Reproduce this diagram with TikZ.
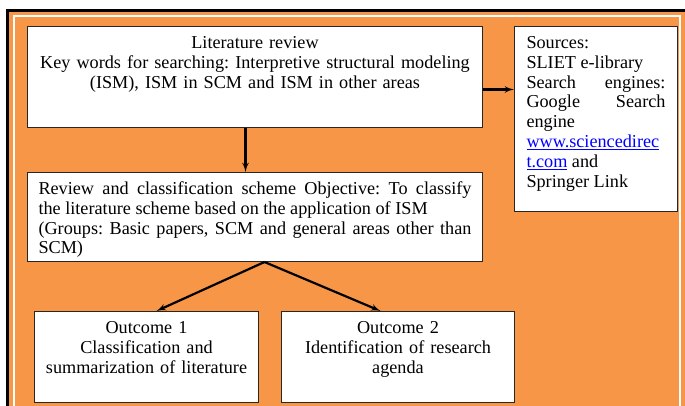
\documentclass[tikz,border=0pt]{standalone}
\usepackage{fontspec}
\setmainfont{Liberation Serif}
\usepackage{xcolor}
\usetikzlibrary{arrows,positioning}
\definecolor{frameorange}{HTML}{F79646}
\definecolor{linkblue}{HTML}{0000FF}
\frenchspacing

\begin{document}
\begin{tikzpicture}[x=1pt,y=1pt,->,>=latex',line width=2.2pt,auto,node distance=44pt,
				box/.style={draw=black!85,line width=1pt,fill=white,inner xsep=11pt,inner ysep=9pt,
				text height=13pt,font=\fontsize{18.2}{19.8}\selectfont}]
			%\tikzstyle{every node}=[draw,fill=white]
			\useasboundingbox (0,0) rectangle (685,405);
			\clip (0,0) rectangle (685,405);
			\fill[white] (0,0) rectangle (685,405);
			\fill[frameorange] (9,-10) rectangle (695,393);
			\draw[-,line width=3pt] (7.5,-10) -- (7.5,394.5) -- (695,394.5);
			\draw[-,white,line width=2pt] (14,-10) -- (14,389) -- (680,389) -- (680,-10);
			\node[box,text width=433pt,align=center,text depth=70pt,anchor=north west] (lit) at (27,379)
				{Literature review\\Key words for searching: Interpretive structural modeling\\(ISM), ISM in SCM and ISM in other areas};
			\node[box,inner xsep=12pt,text width=139pt,align=justify,text depth=154pt,right=31pt of lit.north east,anchor=north west] (src)
				{Sources:\\SLIET e-library\\Search\hfill engines:\\Google\hfill Search\\engine\\
				\textcolor{linkblue}{\underline{www.sciencedirec}}\\\textcolor{linkblue}{\underline{t.com}} and\\Springer Link};
			\node[box,text width=433pt,align=justify,text depth=58pt,below=of lit] (rev)
				{Review and classification scheme Objective: To classify\linebreak the literature scheme based on the application of ISM\newline
				(Groups: Basic papers, SCM and general areas other than\linebreak SCM)};
			\node[box,text width=202pt,align=center,text depth=60pt,below=49pt of rev.south west,anchor=north west,xshift=7pt] (out1)
				{Outcome 1\\Classification and\\summarization of literature};
			\node[box,text width=211pt,align=center,text depth=60pt,right=22pt of out1] (out2)
				{Outcome 2\\Identification of research\\agenda};
			\coordinate (tip) at ([yshift=-12.5pt]lit.east);
			\draw (tip) -- (tip -| src.west);
			\draw ([xshift=-9.5pt]lit.south) -- ([xshift=-9.5pt]rev.north);
			\path ([xshift=9.5pt]rev.south) edge ([xshift=10pt]out1.north)
				edge ([xshift=-17.5pt]out2.north);
		\end{tikzpicture}
\end{document}
